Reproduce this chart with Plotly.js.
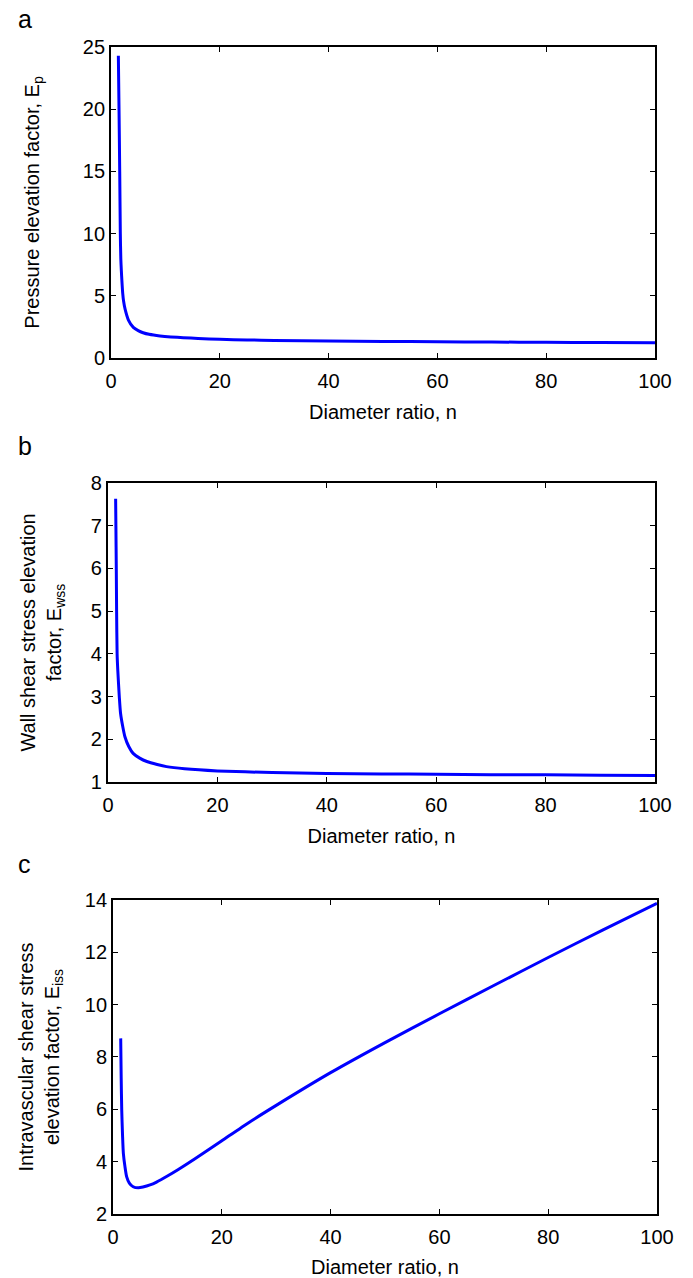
<!DOCTYPE html>
<html>
<head>
<meta charset="utf-8">
<script src="https://cdn.plot.ly/plotly-3.0.1.min.js"></script>
<style>
html,body{margin:0;padding:0;background:#fff;}
#chart{width:693px;height:1278px;}
</style>
</head>
<body>
<div id="chart"></div>
<script>
// Panel a: pressure elevation factor
const nA = [1.35, 1.47, 1.6, 1.71, 1.8, 1.9, 2.0, 2.15, 2.3, 2.6, 3.2, 4.1, 5, 5.9, 7, 9, 11, 13.3, 16, 20, 25, 30, 40, 50, 60, 70, 80, 90, 100];
const epA = [24.3, 20, 15, 10, 8, 7, 6.2, 5.2, 4.6, 3.9, 3.05, 2.46, 2.2, 2.03, 1.9, 1.77, 1.69, 1.63, 1.57, 1.5, 1.45, 1.41, 1.36, 1.33, 1.3, 1.28, 1.26, 1.24, 1.23];
// Panel b: wall shear stress elevation factor
const nB = [1.4, 1.45, 1.52, 1.58, 1.67, 1.8, 2.07, 2.3, 2.7, 3.1, 3.8, 4.6, 5.8, 7.1, 9, 10.7, 14, 20, 30, 40, 50, 60, 70, 80, 90, 100];
const ewB = [7.63, 7.0, 6.0, 5.0, 4.0, 3.6, 3.0, 2.61, 2.3, 2.06, 1.83, 1.67, 1.56, 1.48, 1.41, 1.36, 1.31, 1.26, 1.22, 1.2, 1.19, 1.18, 1.17, 1.17, 1.16, 1.15];
// Panel c: intravascular shear stress elevation factor
const nC = [1.41, 1.5, 1.6, 1.75, 1.9, 2.2, 2.5, 3.0, 3.7, 4.65, 5.5, 6.8, 8, 10, 12, 15, 20, 25, 30, 40, 50, 60, 70, 80, 90, 100];
const eiC = [8.71, 7.2, 5.97, 5.0, 4.32, 3.8, 3.43, 3.18, 3.04, 3.0, 3.03, 3.11, 3.22, 3.45, 3.7, 4.1, 4.8, 5.5, 6.15, 7.4, 8.55, 9.65, 10.73, 11.8, 12.85, 13.87];

const xTitle = "Diameter ratio, n";
const yTitleA = "Pressure elevation factor, E<sub>p</sub>";
const yTitleB = "Wall shear stress elevation<br>factor, E<sub>wss</sub>";
const yTitleC = "Intravascular shear stress<br>elevation factor, E<sub>iss</sub>";
const panelLabels = ["a", "b", "c"];

const FONT = "Liberation Sans, Arial, sans-serif";
const lineStyle = {color: "#0000ff", width: 3, shape: "spline", smoothing: 0.6};

const traces = [
  {x: nA, y: epA, xaxis: "x", yaxis: "y", mode: "lines", line: lineStyle, showlegend: false},
  {x: nB, y: ewB, xaxis: "x2", yaxis: "y2", mode: "lines", line: lineStyle, showlegend: false},
  {x: nC, y: eiC, xaxis: "x3", yaxis: "y3", mode: "lines", line: lineStyle, showlegend: false}
];

function xax(domain, anchor) {
  return {
    domain: domain, anchor: anchor, range: [0, 100], tickvals: [0, 20, 40, 60, 80, 100],
    ticks: "inside", ticklen: 5, tickwidth: 1, tickcolor: "#000",
    showline: true, linewidth: 2, linecolor: "#000", mirror: "ticks",
    showgrid: false, zeroline: false, ticklabelstandoff: 4,
    tickfont: {family: FONT, size: 20, color: "#000"},
    title: {text: xTitle, font: {family: FONT, size: 20, color: "#000"}, standoff: 14}
  };
}
function yax(domain, anchor, range, dtick, title, standoff) {
  return {
    domain: domain, anchor: anchor, range: range, dtick: dtick, tick0: range[0],
    ticks: "inside", ticklen: 5, tickwidth: 1, tickcolor: "#000",
    showline: true, linewidth: 2, linecolor: "#000", mirror: "ticks",
    showgrid: false, zeroline: false,
    tickfont: {family: FONT, size: 20, color: "#000"},
    title: {text: title, font: {family: FONT, size: 20, color: "#000"}, standoff: standoff}
  };
}

const layout = {
  width: 693, height: 1278,
  margin: {l: 0, r: 0, t: 0, b: 0},
  paper_bgcolor: "#fff", plot_bgcolor: "#fff",
  font: {family: FONT, color: "#000"},
  xaxis: xax([0.1602, 0.9452], "y"),
  yaxis: yax([0.7199, 0.9632], "x", [0, 25], 5, yTitleA, 38),
  xaxis2: xax([0.1558, 0.9452], "y2"),
  yaxis2: yax([0.3881, 0.6221], "x2", [1, 8], 1, yTitleB, 24),
  xaxis3: xax([0.1631, 0.948], "y3"),
  yaxis3: yax([0.0501, 0.2958], "x3", [2, 14], 2, yTitleC, 20),
  annotations: [
    {text: panelLabels[0], x: 25 / 693, y: 1 - 19 / 1278},
    {text: panelLabels[1], x: 25 / 693, y: 1 - 446 / 1278},
    {text: panelLabels[2], x: 25 / 693, y: 1 - 864 / 1278}
  ].map(a => Object.assign(a, {xref: "paper", yref: "paper", showarrow: false, xanchor: "center", yanchor: "middle", font: {family: FONT, size: 25, color: "#000"}}))
};

Plotly.newPlot("chart", traces, layout, {displayModeBar: false, staticPlot: true});
</script>
</body>
</html>
